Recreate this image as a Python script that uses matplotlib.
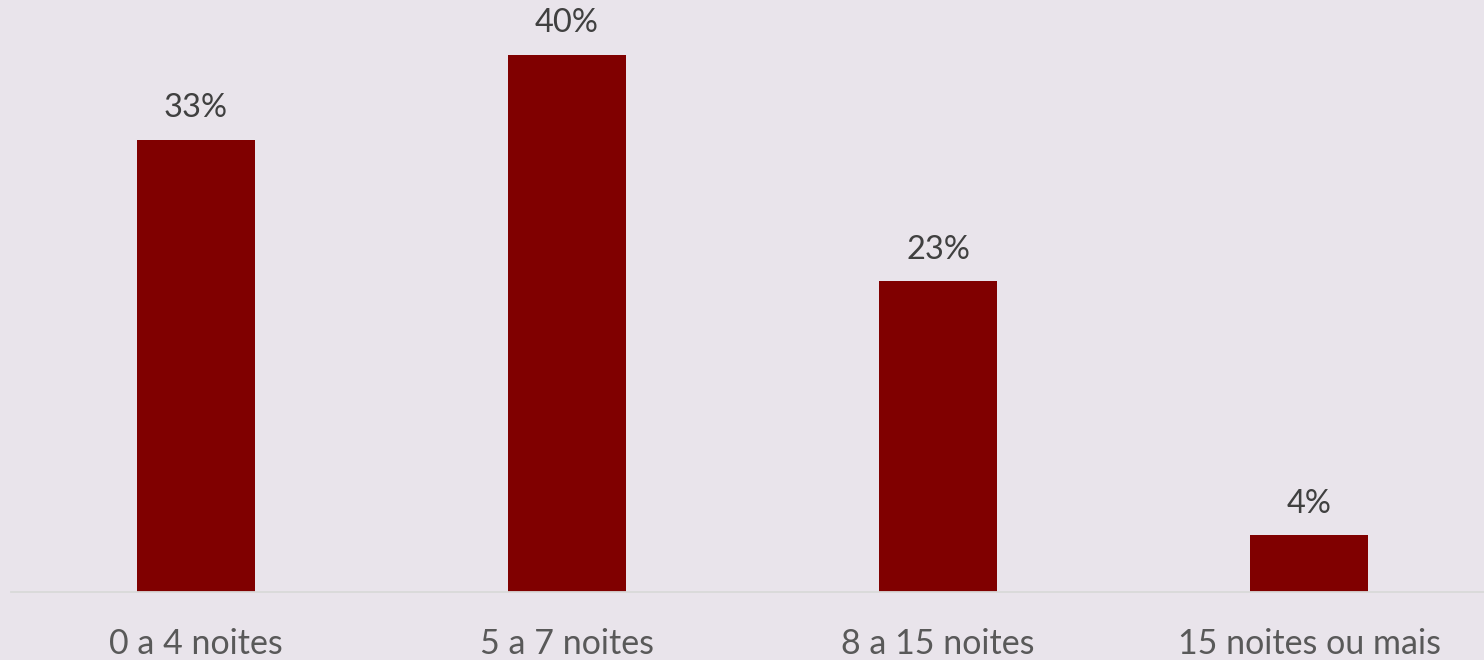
import matplotlib.pyplot as plt
import numpy as np

categories = ['0 a 4 noites', '5 a 7 noites', '8 a 15 noites', '15 noites ou mais']
values = [33.6, 39.9, 23.1, 4.2]
labels = ['33%', '40%', '23%', '4%']

bg = '#E9E4EB'
bar_color = '#800000'

plt.rcParams['font.family'] = ['Lato', 'DejaVu Sans']

fig = plt.figure(figsize=(14.84, 6.60), dpi=100, facecolor=bg)
W, H = 1484, 660
left = 10.5
right = 1494.5
base = 592
ax = fig.add_axes([left / W, (H - base) / H, (right - left) / W, base / H])
ax.set_facecolor(bg)

x = np.arange(len(categories))
ax.bar(x, values, width=0.318, color=bar_color, zorder=2)
ax.set_xlim(-0.5, 3.5)
ax.set_ylim(0, 44)

for xi, v, lab in zip(x, values, labels):
    ax.annotate(lab, (xi, v), xytext=(0, 12), textcoords='offset points',
                ha='center', va='bottom', fontsize=23.5, color='#404040')

ax.set_xticks(x)
ax.set_xticklabels(categories, fontsize=24.5, color='#595959')
ax.tick_params(axis='x', length=0, pad=26)
ax.set_yticks([])
for s in ['top', 'left', 'right']:
    ax.spines[s].set_visible(False)
ax.spines['bottom'].set_color('#D9D9D9')
ax.spines['bottom'].set_linewidth(1.3)

fig.savefig('out.png', dpi=100, facecolor=bg)
